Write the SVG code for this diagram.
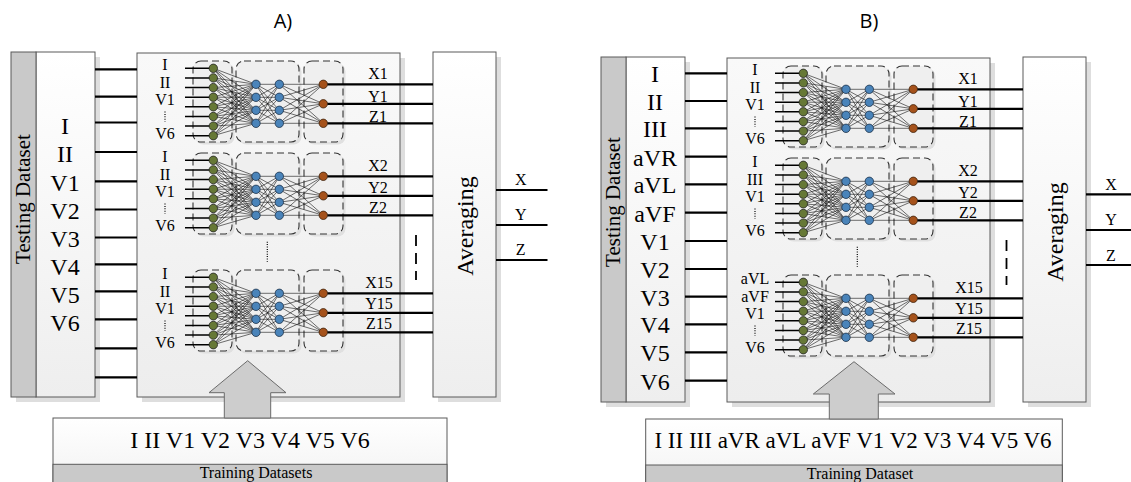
<svg xmlns="http://www.w3.org/2000/svg" xmlns:xlink="http://www.w3.org/1999/xlink" width="1131" height="482" viewBox="0 0 1131 482">
<style>
.box{stroke:#5a5a5a;stroke-width:1}
.sh{fill:#dedede}
.strip{fill:#c9c9c9;stroke:#5a5a5a;stroke-width:1}
.thick{stroke:#000;stroke-width:2.2;fill:none}
.inl{stroke:#000;stroke-width:1.5;fill:none}
.thin{stroke:#111;stroke-width:0.6;fill:none}
.dbox{fill:#efefef;stroke:#333;stroke-width:1.1;stroke-dasharray:7 4}
.dsh{fill:#e0e0e0}
.ser{font-family:"Liberation Serif","Times New Roman",serif;fill:#000}
.l16{font-size:16px;text-anchor:middle}
.l24{font-size:24px;text-anchor:middle}
.gn{fill:#667836;stroke:#222;stroke-width:0.8}
.bl{fill:#4a84ba;stroke:#1d3148;stroke-width:0.8}
.or{fill:#a5521b;stroke:#3e220c;stroke-width:0.8}
.dots{stroke:#000;stroke-width:1.2;stroke-dasharray:1 1.4;fill:none}
.vd{stroke:#000;stroke-width:1.8;stroke-dasharray:11 7;fill:none}
.arrow{fill:#cdcdcd;stroke:#6b6b6b;stroke-width:1}
.title{font-family:"Open Sans","Liberation Sans",sans-serif;font-size:20px;text-anchor:middle;fill:#000}
</style>
<defs>
<linearGradient id="gw" x1="0" y1="0" x2="0" y2="1"><stop offset="0" stop-color="#ffffff"/><stop offset="1" stop-color="#eeeeee"/></linearGradient>
<linearGradient id="gnet" x1="0" y1="0" x2="0" y2="1"><stop offset="0" stop-color="#f9f9f9"/><stop offset="1" stop-color="#ededed"/></linearGradient>
<linearGradient id="gbot" x1="0" y1="0" x2="0" y2="1"><stop offset="0" stop-color="#ffffff"/><stop offset="1" stop-color="#f0f0f0"/></linearGradient>
<g id="mlp">
<rect x="195.5" y="63.5" width="39" height="81" rx="8" class="dsh"/>
<rect x="238.5" y="63.5" width="63" height="81" rx="8" class="dsh"/>
<rect x="306.5" y="63.5" width="39" height="81" rx="8" class="dsh"/>
<rect x="193" y="61" width="39" height="81" rx="8" class="dbox"/>
<rect x="236" y="61" width="63" height="81" rx="8" class="dbox"/>
<rect x="304" y="61" width="39" height="81" rx="8" class="dbox"/>
<path class="inl" d="M185 68.3H213.3M185 77.9H213.3M185 87.6H213.3M185 97.2H213.3M185 106.8H213.3M185 116.5H213.3M185 126.1H213.3M185 135.7H213.3"/>
<path class="thin" d="M256 84.3L213.3 68.3L256 97.3M256 110.3L213.3 68.3L256 123.3M256 84.3L213.3 77.9L256 97.3M256 110.3L213.3 77.9L256 123.3M256 84.3L213.3 87.6L256 97.3M256 110.3L213.3 87.6L256 123.3M256 84.3L213.3 97.2L256 97.3M256 110.3L213.3 97.2L256 123.3M256 84.3L213.3 106.8L256 97.3M256 110.3L213.3 106.8L256 123.3M256 84.3L213.3 116.5L256 97.3M256 110.3L213.3 116.5L256 123.3M256 84.3L213.3 126.1L256 97.3M256 110.3L213.3 126.1L256 123.3M256 84.3L213.3 135.7L256 97.3M256 110.3L213.3 135.7L256 123.3"/>
<path class="thin" d="M279.3 84.3L256 84.3L279.3 97.3M279.3 110.3L256 84.3L279.3 123.3M279.3 84.3L256 97.3L279.3 97.3M279.3 110.3L256 97.3L279.3 123.3M279.3 84.3L256 110.3L279.3 97.3M279.3 110.3L256 110.3L279.3 123.3M279.3 84.3L256 123.3L279.3 97.3M279.3 110.3L256 123.3L279.3 123.3"/>
<path class="thin" d="M323.3 84.3L279.3 84.3L323.3 103.8M279.3 84.3L323.3 123.3M323.3 84.3L279.3 97.3L323.3 103.8M279.3 97.3L323.3 123.3M323.3 84.3L279.3 110.3L323.3 103.8M279.3 110.3L323.3 123.3M323.3 84.3L279.3 123.3L323.3 103.8M279.3 123.3L323.3 123.3"/>
<circle class="gn" cx="213.3" cy="68.3" r="4.2"/><circle class="gn" cx="213.3" cy="77.9" r="4.2"/><circle class="gn" cx="213.3" cy="87.6" r="4.2"/><circle class="gn" cx="213.3" cy="97.2" r="4.2"/><circle class="gn" cx="213.3" cy="106.8" r="4.2"/><circle class="gn" cx="213.3" cy="116.5" r="4.2"/><circle class="gn" cx="213.3" cy="126.1" r="4.2"/><circle class="gn" cx="213.3" cy="135.7" r="4.2"/>
<circle class="bl" cx="256" cy="84.3" r="4.2"/><circle class="bl" cx="256" cy="97.3" r="4.2"/><circle class="bl" cx="256" cy="110.3" r="4.2"/><circle class="bl" cx="256" cy="123.3" r="4.2"/>
<circle class="bl" cx="279.3" cy="84.3" r="4.2"/><circle class="bl" cx="279.3" cy="97.3" r="4.2"/><circle class="bl" cx="279.3" cy="110.3" r="4.2"/><circle class="bl" cx="279.3" cy="123.3" r="4.2"/>
<circle class="or" cx="323.3" cy="84.3" r="4.2"/><circle class="or" cx="323.3" cy="103.8" r="4.2"/><circle class="or" cx="323.3" cy="123.3" r="4.2"/>
</g>
</defs>

<rect width="1131" height="482" fill="#ffffff"/>

<text class="title" x="283" y="28">A)</text>
<text class="title" x="869" y="28">B)</text>

<!-- ================= PANEL A ================= -->
<g id="testA">
<rect x="16" y="57" width="84" height="345" class="sh"/>
<rect x="36" y="52" width="59" height="345" fill="url(#gw)" class="box"/>
<rect x="11" y="52" width="25" height="345" class="strip"/>
<text class="ser" font-size="21" text-anchor="middle" transform="translate(29.5,199) rotate(-90)">Testing Dataset</text>
<g class="ser l24">
<text x="65" y="134">I</text><text x="65" y="162">II</text><text x="65" y="191">V1</text><text x="65" y="218.5">V2</text><text x="65" y="246.5">V3</text><text x="65" y="275">V4</text><text x="65" y="303">V5</text><text x="65" y="331">V6</text>
</g>
</g>

<g id="netA">
<rect x="142" y="58" width="263" height="344" class="sh"/>
<rect x="137" y="53" width="263" height="344" fill="url(#gnet)" class="box"/>
<use xlink:href="#mlp"/>
<use xlink:href="#mlp" transform="translate(0,92)"/>
<use xlink:href="#mlp" transform="translate(0,209)"/>
<path class="dots" d="M267.3 241.7V261.7"/>
<g class="ser l16">
<text x="165" y="70">I</text><text x="165" y="87.7">II</text><text x="165" y="105">V1</text><text x="165" y="139.3">V6</text>
<text x="165" y="162">I</text><text x="165" y="179.7">II</text><text x="165" y="197">V1</text><text x="165" y="231.3">V6</text>
<text x="165" y="279">I</text><text x="165" y="296.7">II</text><text x="165" y="314">V1</text><text x="165" y="348.3">V6</text>
<text x="378" y="79.3">X1</text><text x="378" y="101.7">Y1</text><text x="378" y="121.7">Z1</text>
<text x="378" y="171">X2</text><text x="378" y="193">Y2</text><text x="378" y="213.3">Z2</text>
<text x="379" y="288.3">X15</text><text x="379" y="308.5">Y15</text><text x="379" y="328.5">Z15</text>
</g>
<path class="dots" d="M165 111.5V121.5M165 203.5V213.5M165 320.5V330.5"/>
</g>

<g id="avgA">
<rect x="438" y="57" width="63" height="345" class="sh"/>
<rect x="433" y="52" width="63" height="345" fill="url(#gw)" class="box"/>
<text class="ser" font-size="24" text-anchor="middle" transform="translate(473,226) rotate(-90)">Averaging</text>
</g>

<g id="trainA">
<rect x="53" y="418" width="394" height="80" fill="url(#gbot)" class="box"/>
<rect x="53" y="464.3" width="394" height="40" class="strip"/>
<text class="ser" font-size="24" text-anchor="middle" x="250" y="448">I II V1 V2 V3 V4 V5 V6</text>
<text class="ser" font-size="16" text-anchor="middle" x="256" y="477.5">Training Datasets</text>
</g>

<g id="arrowA">
<polygon class="arrow" points="247.7,360.7 286,392.7 270.7,392.7 270.7,418 224.3,418 224.3,392.7 209,392.7"/>
</g>

<g id="connA">
<path class="thick" d="M95 69.3H137M95 96.7H137M95 122.5H137M95 152H137M95 181.3H137M95 209.5H137M95 237.5H137M95 264.3H137M95 291.3H137M95 319.3H137M95 348.3H137M95 377.3H137"/>
<path class="thick" d="M327.5 84.3H433M327.5 103.8H433M327.5 123.3H433M327.5 176.3H433M327.5 195.8H433M327.5 215.3H433M327.5 293.3H433M327.5 312.8H433M327.5 332.3H433"/>
<path class="thick" d="M496 190H547.5M496 225H547.5M496 260H547.5"/>
<path class="vd" d="M416 235V280"/>
<g class="ser l16"><text x="520.7" y="185">X</text><text x="520.7" y="220">Y</text><text x="520.7" y="255">Z</text></g>
</g>

<!-- ================= PANEL B ================= -->
<g id="testB">
<rect x="606" y="62" width="84" height="345" class="sh"/>
<rect x="626" y="57" width="59" height="345" fill="url(#gw)" class="box"/>
<rect x="601" y="57" width="25" height="345" class="strip"/>
<text class="ser" font-size="21" text-anchor="middle" transform="translate(619.5,202) rotate(-90)">Testing Dataset</text>
<g class="ser l24">
<text x="655" y="82.3">I</text><text x="655" y="110">II</text><text x="655" y="137.3">III</text><text x="655" y="165.7">aVR</text><text x="655" y="193.3">aVL</text><text x="655" y="221.7">aVF</text><text x="655" y="250">V1</text><text x="655" y="278">V2</text><text x="655" y="305.7">V3</text><text x="655" y="333.3">V4</text><text x="655" y="361.3">V5</text><text x="655" y="389.7">V6</text>
</g>
</g>

<g id="netB">
<rect x="732" y="63" width="263" height="344" class="sh"/>
<rect x="727" y="58" width="263" height="344" fill="url(#gnet)" class="box"/>
<use xlink:href="#mlp" transform="translate(590,5)"/>
<use xlink:href="#mlp" transform="translate(590,97)"/>
<use xlink:href="#mlp" transform="translate(590,214)"/>
<path class="dots" d="M857.3 246.7V266.7"/>
<g class="ser l16">
<text x="755" y="75">I</text><text x="755" y="92.7">II</text><text x="755" y="110">V1</text><text x="755" y="144.3">V6</text>
<text x="755" y="167">I</text><text x="755" y="184.7">III</text><text x="755" y="202">V1</text><text x="755" y="236.3">V6</text>
<text x="755" y="284">aVL</text><text x="755" y="301.7">aVF</text><text x="755" y="319">V1</text><text x="755" y="353.3">V6</text>
<text x="968" y="84.3">X1</text><text x="968" y="106.7">Y1</text><text x="968" y="126.7">Z1</text>
<text x="968" y="176">X2</text><text x="968" y="198">Y2</text><text x="968" y="218.3">Z2</text>
<text x="969" y="293.3">X15</text><text x="969" y="313.5">Y15</text><text x="969" y="333.5">Z15</text>
</g>
<path class="dots" d="M755 116.5V126.5M755 208.5V218.5M755 325.5V335.5"/>
</g>

<g id="avgB">
<rect x="1028" y="62" width="63" height="345" class="sh"/>
<rect x="1023" y="57" width="63" height="345" fill="url(#gw)" class="box"/>
<text class="ser" font-size="24" text-anchor="middle" transform="translate(1063,232) rotate(-90)">Averaging</text>
</g>

<g id="trainB">
<rect x="645.7" y="419" width="416.6" height="80" fill="url(#gbot)" class="box"/>
<rect x="645.7" y="465" width="416.6" height="40" class="strip"/>
<text class="ser" font-size="23" text-anchor="middle" x="853" y="448.3">I II III aVR aVL aVF V1 V2 V3 V4 V5 V6</text>
<text class="ser" font-size="16" text-anchor="middle" x="860" y="478.5">Training Dataset</text>
</g>

<g id="arrowB">
<polygon class="arrow" points="854,361.7 895,394 878.3,394 878.3,419 829.3,419 829.3,394 813.3,394"/>
</g>

<g id="connB">
<path class="thick" d="M685 73.3H727M685 101H727M685 128.3H727M685 156.7H727M685 184.3H727M685 212.7H727M685 241H727M685 269H727M685 296.7H727M685 324.3H727M685 352.3H727M685 380.7H727"/>
<path class="thick" d="M917.5 89.3H1023M917.5 108.8H1023M917.5 128.3H1023M917.5 181.3H1023M917.5 200.8H1023M917.5 220.3H1023M917.5 298.3H1023M917.5 317.8H1023M917.5 337.3H1023"/>
<path class="thick" d="M1086 194.3H1131M1086 230H1131M1086 265H1131"/>
<path class="vd" d="M1006.5 240V285"/>
<g class="ser l16"><text x="1111" y="189.5">X</text><text x="1111" y="225">Y</text><text x="1111" y="261">Z</text></g>
</g>
</svg>
